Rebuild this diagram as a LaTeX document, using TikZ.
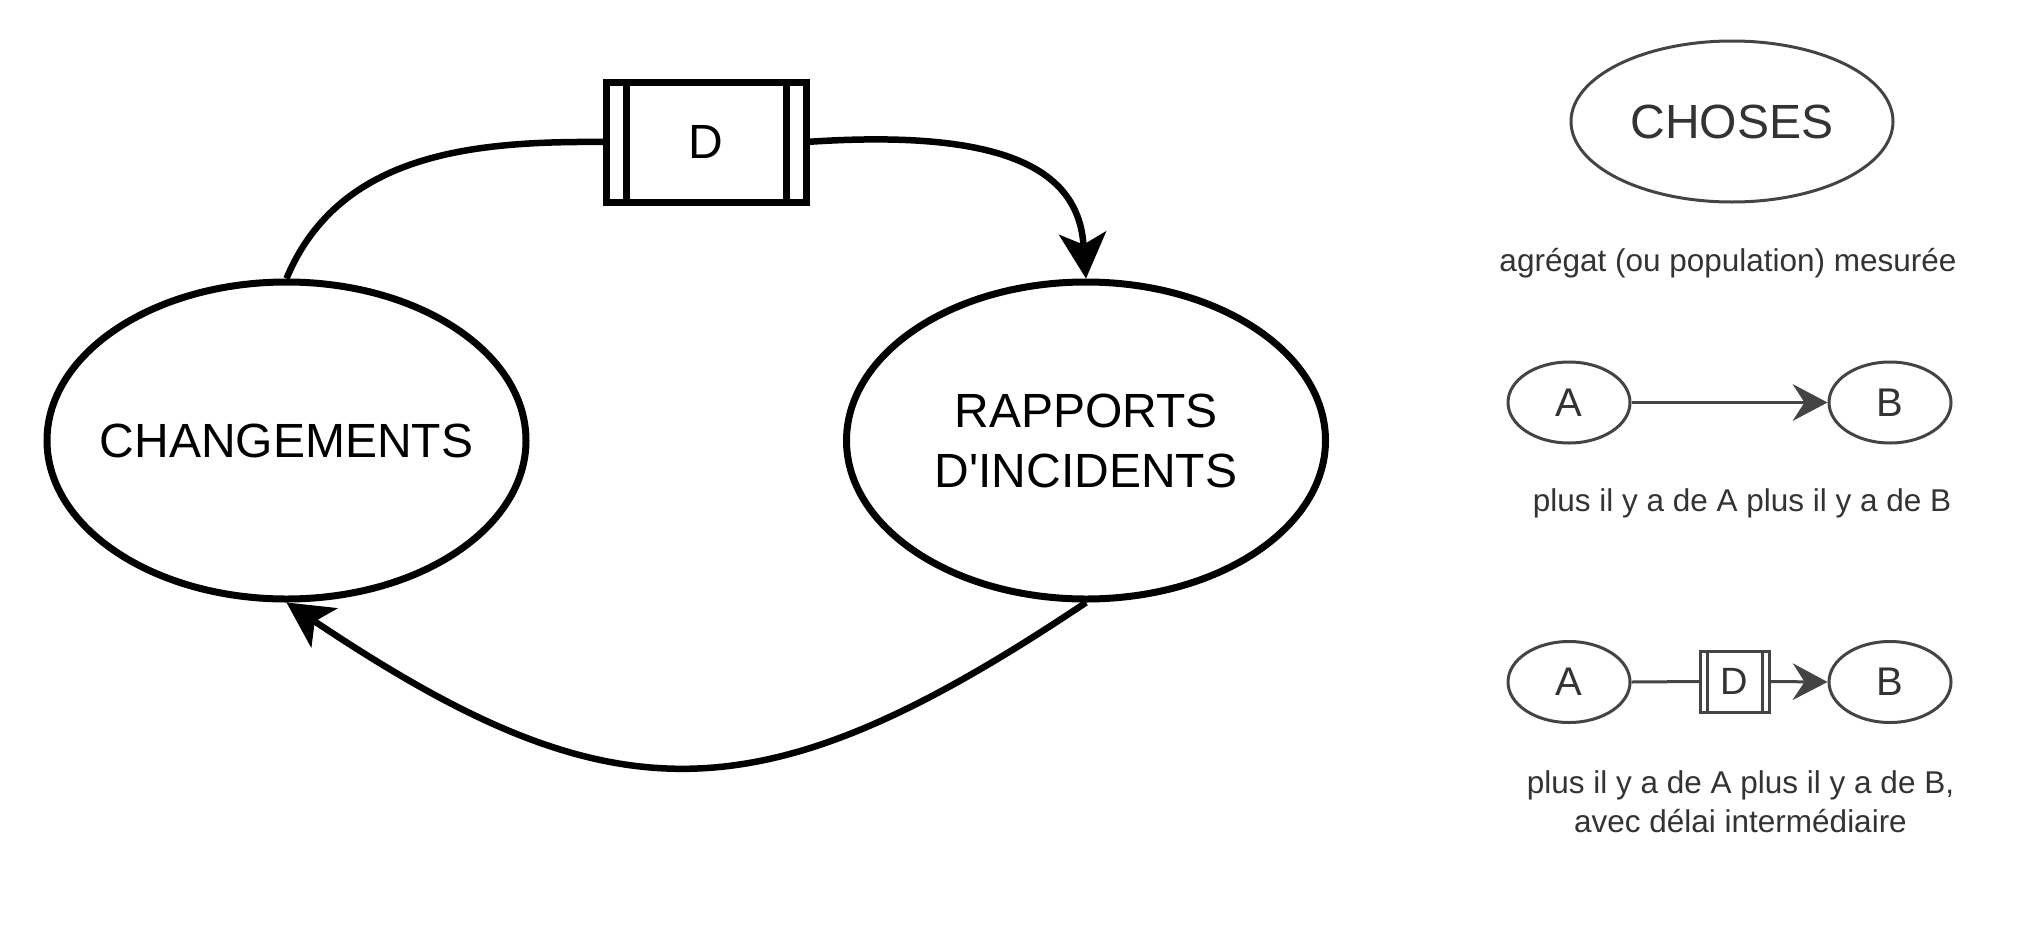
\documentclass[tikz,border=0pt]{standalone}
\usepackage{fontspec}
\setmainfont{Liberation Sans}
\usetikzlibrary{shapes.geometric,arrows.meta}
\definecolor{lg}{HTML}{444444}
\definecolor{lt}{HTML}{333333}
\begin{document}
\begin{tikzpicture}[x=1pt,y=-1pt,
  bigell/.style={ellipse,draw,line width=7pt,minimum width=479pt,minimum height=317pt,
    inner sep=0pt,font=\fontsize{48}{60}\selectfont,align=center},
  bigbox/.style={rectangle,draw,line width=7pt,minimum width=200pt,minimum height=120pt,
    inner sep=0pt,outer sep=0pt,font=\fontsize{48}{60}\selectfont},
  conn/.style={line width=6.5pt},
  bigtip/.style={-{Stealth[length=46pt,width=48pt,inset=12pt,line width=0pt]}},
  legell/.style={ellipse,draw=lg,line width=3pt,text=lt,inner sep=0pt},
  smallell/.style={legell,minimum width=122pt,minimum height=81pt,font=\fontsize{40}{48}\selectfont},
  smallbox/.style={rectangle,draw=lg,line width=3pt,text=lt,minimum width=69pt,minimum height=61pt,
    inner sep=0pt,outer sep=0pt,font=\fontsize{38}{46}\selectfont},
  legconn/.style={draw=lg,line width=3pt},
  legtip/.style={-{Stealth[length=35pt,width=37pt,inset=12pt,line width=0pt]}},
  legtext/.style={text=lt,inner sep=0pt,font=\fontsize{31.5}{39.4}\selectfont,align=center}
]
\fill[white] (0,0) rectangle (2032,924);
\useasboundingbox (0,0) rectangle (2032,924);

% main diagram
\node[bigell] (l) at (286.5,440.5) {\makebox[0pt]{CHANGEMENTS}};
\node[bigell] (r) at (1086,440.5) {RAPPORTS\\D\textquotesingle INCIDENTS};
\node[bigbox] (d) at (706,142) {D};
\draw[line width=7pt] ([xshift=20pt]d.north west) -- ([xshift=20pt]d.south west);
\draw[line width=7pt] ([xshift=-20pt]d.north east) -- ([xshift=-20pt]d.south east);

\draw[conn] (l.north) .. controls (340,150) and (480,141) .. (d.west);
\draw[conn,bigtip] (d.east) .. controls (1010,128) and (1078,172) .. (r.north);
\draw[conn,bigtip] (r.south) .. controls (760,821) and (613,821) .. (l.south);

% legend
\node[legell,minimum width=322pt,minimum height=161pt,font=\fontsize{48}{60}\selectfont] (ch) at (1732,121.5) {CHOSES};
\node[legtext,anchor=base] (t1) at (1728,271) {agrégat (ou population) mesurée};

\node[smallell] (a1) at (1569,402.5) {A};
\node[smallell] (b1) at (1890,402.5) {B};
\draw[legconn,legtip] (a1.east) -- (b1.west);
\node[legtext,anchor=base] (t2) at (1742,511) {plus il y a de A plus il y a de B};

\node[smallell] (a2) at (1569,682) {A};
\node[smallell] (b2) at (1890,682) {B};
\node[smallbox] (d2) at (1734.5,681.5) {D};
\draw[draw=lg,line width=3pt] ([xshift=7pt]d2.north west) -- ([xshift=7pt]d2.south west);
\draw[draw=lg,line width=3pt] ([xshift=-7pt]d2.north east) -- ([xshift=-7pt]d2.south east);
\draw[legconn] (a2.east) -- (d2.west);
\draw[legconn,legtip] (d2.east) -- (b2.west);
\node[legtext] (t3) at (1740.5,802) {plus il y a de A plus il y a de B,\\avec délai intermédiaire};
\end{tikzpicture}
\end{document}
